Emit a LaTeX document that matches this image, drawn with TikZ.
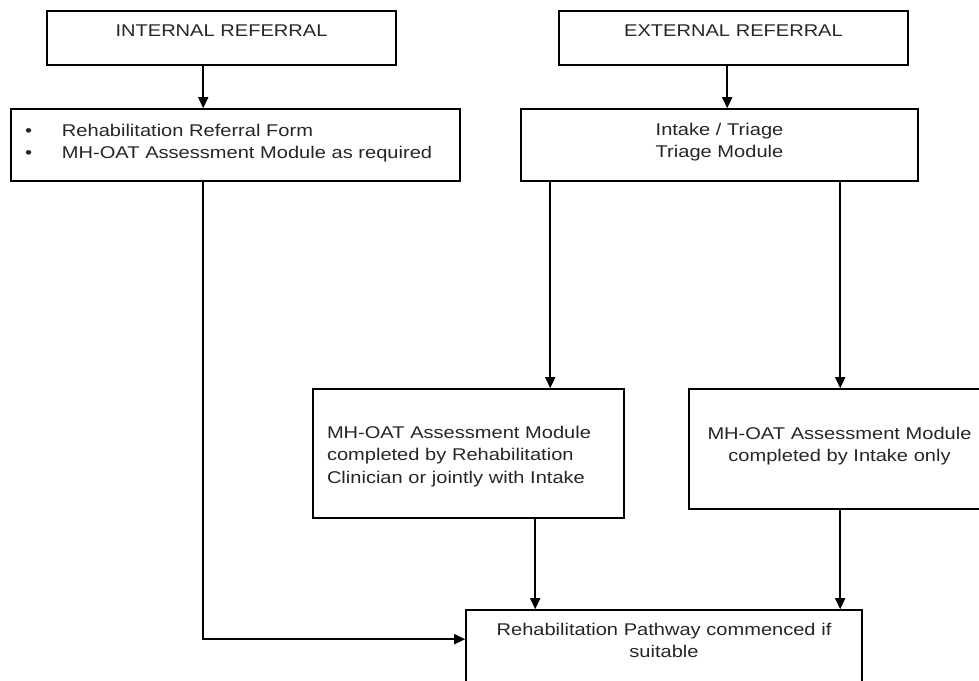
\documentclass[tikz,border=0pt]{standalone}
\usepackage{fontspec}
\setmainfont{Liberation Sans}[FakeStretch=1.18]
\usepackage{tikz}
\usetikzlibrary{calc, arrows.meta, positioning}
\tikzset{
    boxnode/.style = {draw, rectangle, line width=1.6pt, inner xsep=14pt, inner ysep=0pt, align=center,
      node distance=0em, text=black!85, font=\fontsize{17}{22.5}\selectfont},
    connect/.style = {black, line width=1.5pt, -{Triangle[length=11pt, width=10pt]}}
}

\begin{document}
\begin{tikzpicture}[x=1pt, y=1pt]
\useasboundingbox (0,0) rectangle (979,-680);

\node[boxnode, name=intref, text width=321pt, text height=25pt, text depth=29pt] at (221.5,-38)
	{INTERNAL REFERRAL};
\node[boxnode, name=refform, below of = intref, xshift=14pt, yshift=-107pt,
	text width=421pt, text height=27pt, text depth=45pt, align=left]
	{\makebox[37pt][l]{\textbullet}Rehabilitation Referral Form\\
	 \makebox[37pt][l]{\textbullet}MH-OAT Assessment Module as required};

\node[boxnode, name=extref, right of = intref, xshift=512pt,
	text width=321pt, text height=25pt, text depth=29pt] {EXTERNAL REFERRAL};
\node[boxnode, name=triage, below of = extref, xshift=-14pt, yshift=-107pt,
	text width=369pt, text height=26pt, text depth=46pt] {Intake / Triage\\ Triage Module};

\node[boxnode, name=clinassess, below of = triage, xshift=-251pt, yshift=-308.5pt,
	text width=283pt, text height=49pt, text depth=80pt, align=left]
	{MH-OAT Assessment Module\\ completed by Rehabilitation\\ Clinician or jointly with Intake};
\node[boxnode, name=intakeassess, below of = triage, xshift=120pt, yshift=-304pt,
	text width=273pt, text height=50pt, text depth=70pt]
	{MH-OAT Assessment Module\\ completed by Intake only};

\node[boxnode, name=pathway, below of = clinassess, xshift=195.5pt, yshift=-201.5pt,
	text width=368pt, text height=25pt, text depth=65pt]
	{Rehabilitation Pathway commenced if\\ suitable};

\coordinate (intlane) at ($(intref.south west)+(157pt,0)$);
\coordinate (extlane) at ($(extref.south west)+(169pt,0)$);
\coordinate (leftlane) at ($(triage.south west)+(30pt,0)$);
\coordinate (rightlane) at ($(triage.south west)+(320pt,0)$);
\coordinate (midlane) at ($(clinassess.south west)+(223pt,0)$);

\draw[connect] (intref.south -| intlane) -- (refform.north -| intlane);
\draw[connect] (refform.south -| intlane) |- ($(pathway.north west)+(0pt,-30pt)$);
\draw[connect] (extref.south -| extlane) -- (triage.north -| extlane);
\draw[connect] (triage.south -| leftlane) -- (clinassess.north -| leftlane);
\draw[connect] (triage.south -| rightlane) -- (intakeassess.north -| rightlane);
\draw[connect] (clinassess.south -| midlane) -- (pathway.north -| midlane);
\draw[connect] (intakeassess.south -| rightlane) -- (pathway.north -| rightlane);
\end{tikzpicture}
\end{document}
